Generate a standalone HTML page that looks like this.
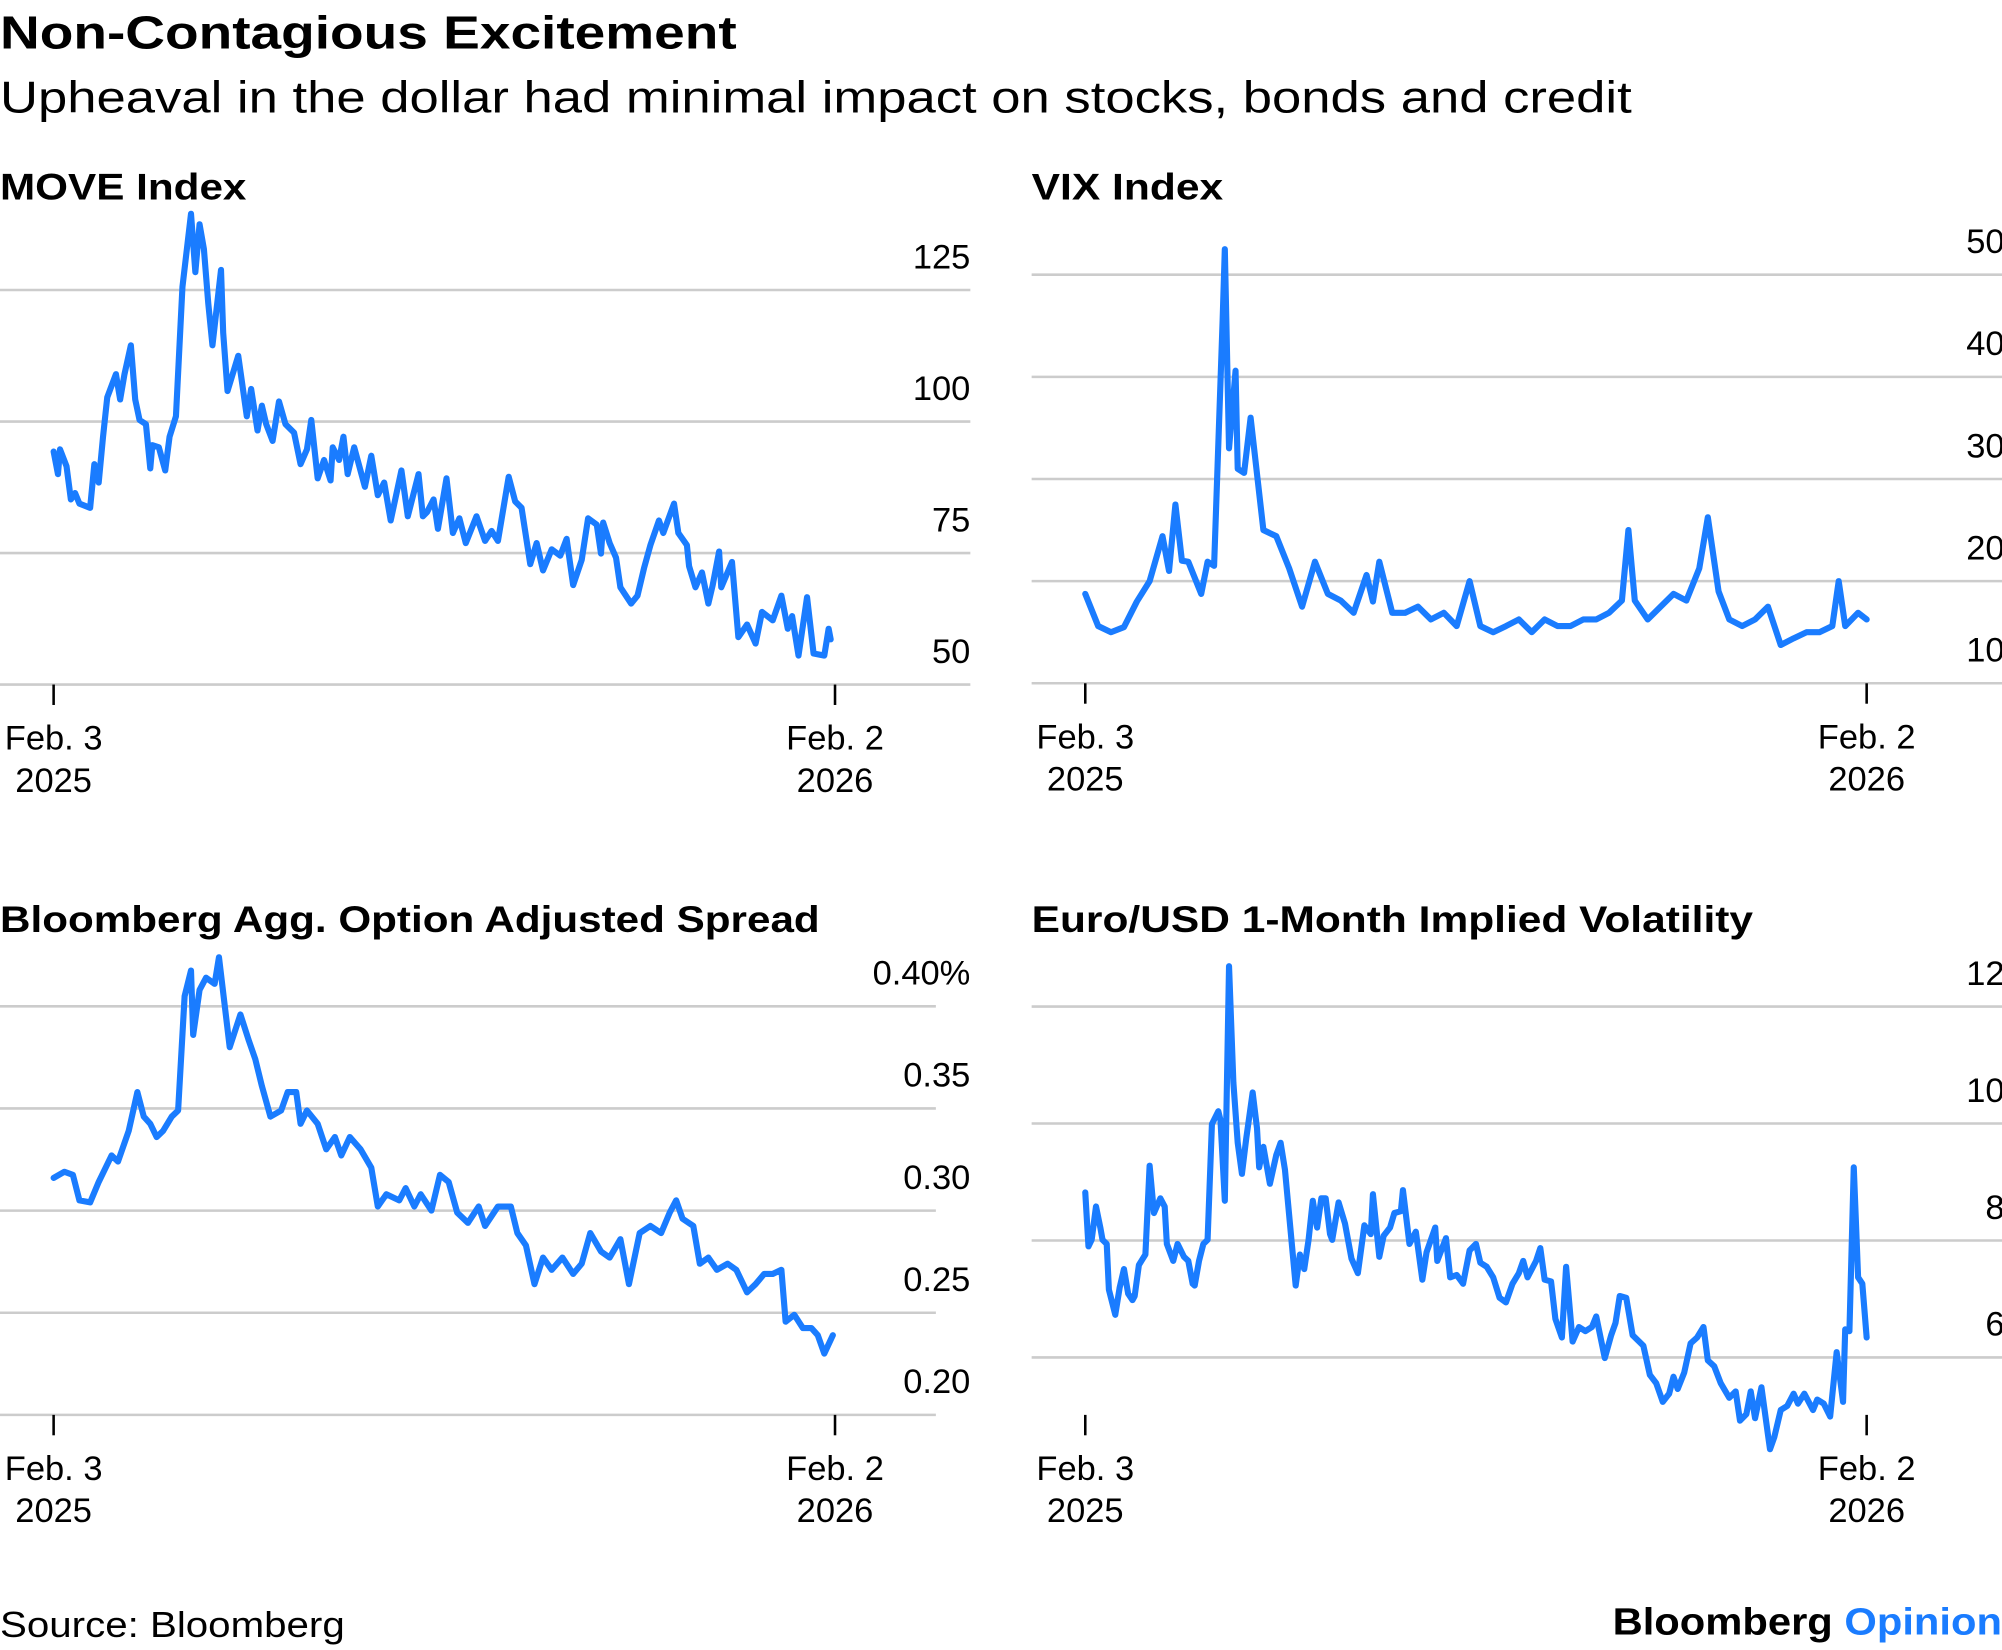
<!DOCTYPE html>
<html><head><meta charset="utf-8">
<style>
html,body{margin:0;padding:0;background:#fff;}
svg{display:block;font-family:"Liberation Sans",Arial,sans-serif;}
</style></head>
<body>
<svg id="chart" width="2002" height="1650" viewBox="0 0 1568 1292" xmlns="http://www.w3.org/2000/svg">
<text x="0" y="38" font-size="36" font-weight="bold" fill="#000" textLength="577" lengthAdjust="spacingAndGlyphs">Non-Contagious Excitement</text>
<text x="0" y="88" font-size="35" fill="#000" textLength="1278" lengthAdjust="spacingAndGlyphs">Upheaval in the dollar had minimal impact on stocks, bonds and credit</text>
<text x="0" y="1282" font-size="28" fill="#000" textLength="270" lengthAdjust="spacingAndGlyphs">Source: Bloomberg</text>
<text x="1263" y="1280" font-size="30" font-weight="bold" fill="#000" textLength="305" lengthAdjust="spacingAndGlyphs">Bloomberg <tspan fill="#1a7cff">Opinion</tspan></text>
<g id="panels"></g>
</svg>
<script>
// ---- MOVE Index ----
const moveDays = [0,2,3,6,8,10,12,17,19,21,23,25,29,31,33,36,38,40,43,45,46,49,52,54,57,60,64,66,68,70,72,74,78,79,81,86,90,92,95,97,99,102,105,108,112,115,118,120,123,126,129,130,133,135,137,140,145,148,151,154,157,162,165,170,172,174,177,179,183,186,189,192,197,201,204,207,212,215,218,222,225,228,232,236,239,242,246,249,253,255,256,259,262,264,269,272,275,278,282,284,289,291,295,296,299,302,305,307,310,311,316,319,323,327,330,335,339,342,344,347,351,354,359,361,362];
const moveValues = [94.3,90.0,94.7,91.5,85.2,86.4,84.4,83.6,91.9,88.4,97.1,104.6,109,104.2,109,114.5,104.2,100.3,99.5,91.1,95.5,95.1,90.7,97.1,101.0,125.6,139.5,128.4,137.5,132.8,122.5,114.5,128.8,116.9,105.8,112.5,101,106.2,98.3,103.0,99.5,96.3,103.8,99.5,97.9,91.9,94.7,100.3,89.2,92.7,88.8,95.1,92.7,97.1,90,95.1,87.6,93.5,86,88.4,81.2,90.7,82,90,82,82.8,85.2,79.6,89.2,78.8,81.6,76.9,82,77.3,79.2,77.3,89.5,84.8,83.6,72.9,76.9,71.7,75.7,74.5,77.7,68.9,73.7,81.6,80.4,74.9,80.8,76.9,74.1,68.5,65.4,66.9,72.1,76.5,81.2,78.8,84.4,78.8,76.5,72.5,68.5,71.3,65.4,68.9,75.3,68.5,73.3,59.0,61.4,57.8,63.8,62.2,66.9,60.6,63,55.5,66.6,55.9,55.5,60.6,58.6];
const moveTicks = [125,100,75,50];
const moveTickLabels = ["125","100","75","50"];

// ---- VIX Index ----
const vixDays = [0,6,12,18,24,30,36,39,42,45,48,54,57,60,64,65,67,70,71,74,77,83,89,95,101,107,113,119,125,131,134,137,143,149,155,161,167,173,179,184,190,196,202,208,214,220,226,232,238,244,250,253,256,262,268,274,280,286,290,295,300,306,312,318,324,330,336,342,348,351,354,360,364];
const vixValues = [18.75,15.6,15,15.5,18,20,24.4,21,27.5,22,21.9,18.75,21.9,21.5,45.6,52.5,33,40.6,31,30.6,36,25,24.4,21.25,17.5,21.9,18.75,18.1,16.9,20.6,18,21.9,16.9,16.9,17.5,16.25,16.9,15.6,20,15.6,15,15.6,16.25,15,16.25,15.6,15.6,16.25,16.25,16.9,18.1,25,18.1,16.25,17.5,18.75,18.1,21.25,26.25,19,16.25,15.6,16.25,17.5,13.75,14.4,15,15,15.6,20,15.6,16.9,16.25];
const vixTicks = [50,40,30,20,10];
const vixTickLabels = ["50","40","30","20","10"];

// ---- Bloomberg Agg OAS ----
const oasDays = [0,5,9,12,17,21,27,30,35,39,42,45,48,51,55,58,61,64,65,68,71,75,77,82,87,91,94,97,101,106,109,113,115,118,123,127,131,134,138,143,148,151,155,161,164,168,171,176,180,184,188,193,198,201,207,213,216,220,224,228,232,237,242,246,250,255,259,264,268,273,278,283,287,290,293,298,301,305,309,314,318,323,327,331,335,339,341,345,349,353,356,359,363];
const oasValues = [0.316,0.319,0.3175,0.305,0.304,0.314,0.327,0.324,0.339,0.358,0.346,0.3425,0.336,0.339,0.346,0.349,0.405,0.4175,0.386,0.408,0.414,0.411,0.424,0.38,0.396,0.383,0.374,0.361,0.346,0.349,0.358,0.358,0.3425,0.349,0.3425,0.33,0.336,0.327,0.336,0.33,0.321,0.302,0.308,0.305,0.311,0.302,0.308,0.30,0.3175,0.314,0.299,0.294,0.302,0.2925,0.302,0.302,0.289,0.283,0.264,0.277,0.271,0.277,0.269,0.274,0.289,0.28,0.277,0.286,0.264,0.289,0.2925,0.289,0.299,0.305,0.296,0.2925,0.274,0.277,0.271,0.274,0.271,0.26,0.264,0.269,0.269,0.271,0.2456,0.249,0.2425,0.2425,0.239,0.23,0.239];
const oasTicks = [0.40,0.35,0.30,0.25,0.20];
const oasTickLabels = ["0.40%","0.35","0.30","0.25","0.20"];

// ---- Euro/USD 1M implied vol ----
const eurDays = [0,1.5,3,5,7,8,10,11,14,16,18,20,22,23,25,28,30,32,35,37,38,41,43,46,48,50,51,53,55,57,59,62,63,65,67,69,71,73,75,78,80,81,83,86,89,91,93,95,98,100,102,104,106,108,110,112,114,115,118,121,124,127,130,133,134,137,139,142,144,147,148,151,154,157,159,163,164,168,170,173,176,179,182,184,187,190,193,196,199,202,204,206,210,212,214,217,219,222,224,227,230,233,236,238,242,245,247,249,252,255,260,263,266,269,272,274,276,279,282,285,288,290,293,296,300,303,305,308,310,312,315,318,319,321,324,327,330,332,335,339,341,344,347,350,353,354,356,358,360,362,364];
const eurValues = [8.82,7.90,8.01,8.58,8.22,8.01,7.94,7.16,6.73,7.19,7.51,7.09,6.98,7.05,7.58,7.76,9.28,8.47,8.72,8.58,7.94,7.65,7.94,7.72,7.65,7.26,7.23,7.65,7.94,8.01,9.99,10.21,10.06,8.68,12.69,10.70,9.67,9.14,9.75,10.53,9.92,9.25,9.60,8.97,9.46,9.67,9.21,8.43,7.23,7.76,7.51,8.01,8.68,8.22,8.72,8.72,8.11,8.01,8.65,8.29,7.69,7.44,8.26,8.11,8.79,7.72,8.08,8.22,8.47,8.50,8.86,7.94,8.15,7.33,7.80,8.22,7.65,8.04,7.37,7.41,7.26,7.83,7.94,7.62,7.55,7.37,7.02,6.94,7.26,7.44,7.65,7.37,7.65,7.87,7.33,7.30,6.66,6.34,7.55,6.27,6.52,6.45,6.52,6.70,5.99,6.38,6.59,7.05,7.02,6.38,6.20,5.70,5.56,5.24,5.38,5.67,5.46,5.74,6.24,6.34,6.52,5.95,5.85,5.56,5.31,5.42,4.92,5.03,5.42,4.96,5.49,4.68,4.43,4.64,5.10,5.17,5.38,5.21,5.38,5.10,5.28,5.21,4.99,6.09,5.24,6.48,6.45,9.25,7.37,7.26,6.34];
const eurTicks = [12,10,8,6];
const eurTickLabels = ["12","10","8","6"];

const NS = "http://www.w3.org/2000/svg";
const root = document.getElementById('panels');
function mk(tag, attrs, parent){
  const e = document.createElementNS(NS, tag);
  for (const k in attrs) e.setAttribute(k, attrs[k]);
  (parent||root).appendChild(e);
  return e;
}

function panel(cfg){
  const g = mk('g', {});
  
  
  const x = d => cfg.x0 + (d/364)*(cfg.x1 - cfg.x0);
  const y = v => cfg.yRef - (v - cfg.vRef) * cfg.k;
  const t = mk('text', {x: cfg.gx0, y: cfg.titleY, 'font-size': 29, 'font-weight': 'bold', fill: '#000', textLength: cfg.titleW, lengthAdjust: 'spacingAndGlyphs'}, g);
  t.textContent = cfg.title;
  
  
  cfg.ticks.forEach((v, i) => {
    const ly = y(v);
    const gl = mk('line', {x1: cfg.gx0, x2: cfg.gx1, y1: ly, y2: ly, stroke: '#cccccc', 'stroke-width': 2}, g);
    
    
    const lb = mk('text', {x: cfg.lx, y: ly - 17, 'font-size': 27, 'text-anchor': 'end', fill: '#000'}, g);
    lb.textContent = cfg.labels[i];
    
    
  });
  [[0, 'Feb. 3', '2025'], [364, 'Feb. 2', '2026']].forEach(([d, a, b]) => {
    const tx = x(d);
    const tk = mk('line', {x1: tx, x2: tx, y1: cfg.tickY, y2: cfg.tickY + 16, stroke: '#000', 'stroke-width': 2}, g);
    
    
    const l1 = mk('text', {x: tx, y: cfg.tickY + 51, 'font-size': 27, 'text-anchor': 'middle', fill: '#000'}, g);
    l1.textContent = a;
    
    
    const l2 = mk('text', {x: tx, y: cfg.tickY + 84, 'font-size': 27, 'text-anchor': 'middle', fill: '#000'}, g);
    l2.textContent = b;
    
    
  });
  const n = Math.min(cfg.days.length, cfg.values.length);
  let dstr = '';
  for (let i = 0; i < n; i++) dstr += (i ? 'L' : 'M') + x(cfg.days[i]).toFixed(1) + ',' + y(cfg.values[i]).toFixed(1);
  const p = mk('path', {d: dstr, fill: 'none', stroke: '#1a7cff', 'stroke-width': 4.8, 'stroke-linejoin': 'round', 'stroke-linecap': 'round'}, g);
  
  
}

panel({name:'move-index', title:'MOVE Index', titleW:193, titleY:156, x0:42, x1:654, gx0:0, gx1:760, lx:760, yRef:536, vRef:50, k:4.12, tickY:536, ticks:moveTicks, labels:moveTickLabels, days:moveDays, values:moveValues});
panel({name:'vix-index', title:'VIX Index', titleW:150, titleY:156, x0:850, x1:1462, gx0:808, gx1:1568, lx:1570, yRef:535, vRef:10, k:8, tickY:535, ticks:vixTicks, labels:vixTickLabels, days:vixDays, values:vixValues});
panel({name:'agg-oas', title:'Bloomberg Agg. Option Adjusted Spread', titleW:642, titleY:730, x0:42, x1:654, gx0:0, gx1:733, lx:760, yRef:1108, vRef:0.20, k:1600, tickY:1108, ticks:oasTicks, labels:oasTickLabels, days:oasDays, values:oasValues});
panel({name:'eurusd-vol', title:'Euro/USD 1-Month Implied Volatility', titleW:565, titleY:730, x0:850, x1:1462, gx0:808, gx1:1568, lx:1570, yRef:1063, vRef:6, k:45.8, tickY:1108, ticks:eurTicks, labels:eurTickLabels, days:eurDays, values:eurValues});
</script>
</body></html>
